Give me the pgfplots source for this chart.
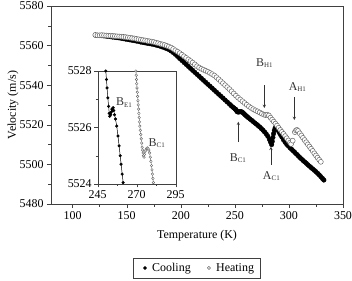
\documentclass[border=0pt]{standalone}
\usepackage{fontspec}
\setmainfont{Liberation Serif}
\usepackage{pgfplots}
\pgfplotsset{compat=1.18}
\newcommand{\fs}{\fontsize{12}{14}\selectfont}
\newcommand{\lab}[2]{#1\textsubscript{\fontsize{7}{8}\selectfont #2}}
\begin{document}
\begin{tikzpicture}
\begin{axis}[
  at={(0,0)}, anchor=south west,
  width=292bp, height=198bp, scale only axis,
  xmin=80, xmax=350, ymin=5480, ymax=5580,
  xtick={100,150,...,350}, ytick={5480,5500,...,5580},
  minor x tick num=1, minor y tick num=1,
  tick pos=left, tick align=outside,
  major tick length=4bp, minor tick length=2.5bp,
  axis line style={black!75}, every tick/.style={black!75},
  /pgf/number format/assume math mode=true,
  /pgf/number format/1000 sep={},
  tick label style={font=\fs},
  label style={font=\fs},
  xlabel={Temperature (K)}, ylabel={Velocity (m/s)},
  xlabel style={at={(axis description cs:0.5,-0.162)}, anchor=center},
  ylabel style={at={(axis description cs:-0.13,0.5)}, anchor=center},
  legend columns=2,
  legend style={at={(axis description cs:0.498,-0.323)}, anchor=center,
    font=\fs, draw=black!75,
    /tikz/every even column/.append style={column sep=8bp},
    inner xsep=4bp, inner ysep=3bp},
  legend image code/.code={\path (0bp,0bp) (13bp,0bp); \draw[#1,mark size=1.6pt] plot coordinates {(8bp,0bp)};},
]
\addplot[only marks, mark=*, mark size=2.3pt, black] coordinates {
(121,5565.3)(123,5565.2)(125,5565.1)(127,5565.0)(129,5564.9)(131,5564.8)(133,5564.6)(135,5564.5)
(137,5564.3)(139,5564.2)(141,5564.0)(143,5563.9)(145,5563.7)(147,5563.5)(149,5563.3)(151,5563.1)
(153,5562.9)(155,5562.7)(157,5562.5)(159,5562.3)(161,5562.1)(163,5561.8)(165,5561.6)(167,5561.4)
(169,5561.2)(171,5561.0)(173,5560.8)(175,5560.6)(177,5560.3)(179,5560.0)(181,5559.7)(183,5559.3)
(185,5558.9)(187,5558.5)(189,5558.0)(191,5557.3)(193,5556.5)(195,5555.6)(197,5554.6)(199,5553.5)
(201,5552.5)(203,5551.5)(205,5550.5)(207,5549.5)(209,5548.5)(211,5547.5)(213,5546.5)(215,5545.5)
(217,5544.5)(219,5543.5)(221,5542.5)(223,5541.5)(225,5540.5)(227,5539.5)(229,5538.5)(231,5537.5)
(233,5536.5)(235,5535.5)(237,5534.5)(239,5533.5)(241,5532.5)(243,5531.5)(245,5530.5)(246.5,5529.7)
(248,5529.0)(249,5528.5)(250.3,5528.0)(250.8,5527.75)(251.4,5527.3)(252.0,5526.7)(252.9,5526.45)
(253.7,5526.5)(254.6,5526.6)(255.4,5526.65)(256.3,5526.55)(257.2,5526.2)(258.5,5525.6)(259.3,5525.1)
(260.4,5524.6)(261.4,5524.1)(262.5,5523.6)(264,5522.9)(265.5,5522.3)(267,5521.6)(268.5,5520.9)
(270,5520.3)(271.5,5519.6)(273,5518.9)(274.5,5518.1)(276,5517.3)(277.5,5516.4)(279,5515.4)
(280.5,5514.2)(282,5512.6)(283,5511.3)(284,5510.0)(284.6,5511.6)(285.2,5513.6)(285.8,5515.5)
(286.5,5517.2)(287.3,5518.4)(288.2,5518.8)(289.2,5518.0)(290.2,5517.0)(291.2,5516.0)(292.2,5515.0)
(293.5,5513.8)(295,5512.4)(296.5,5511.2)(298,5510.1)(299.5,5509.3)(301,5508.4)(302.5,5507.6)
(304,5506.8)(305.5,5506.0)(307,5505.2)(308.5,5504.4)(310,5503.5)(311.5,5502.8)(313,5502.0)
(314.5,5501.3)(316,5500.6)(317.5,5499.8)(319,5499.1)(320.5,5498.4)(322,5497.7)(323.5,5497.0)
(325,5496.3)(326.5,5495.5)(328,5494.7)(329.5,5493.8)(331,5492.9)(332.3,5492.1)
};
\addlegendentry{Cooling}
\addplot[only marks, mark=*, mark size=2.5pt, mark options={draw=black!60, fill=white, line width=0.5pt}] coordinates {
(121,5565.4)(123,5565.2)(125,5565.2)(127,5565.3)(129,5565.2)(131,5565.1)(133,5565.0)(135,5565.0)
(137,5564.9)(139,5564.8)(141,5564.7)(143,5564.6)(145,5564.5)(147,5564.4)(149,5564.3)(151,5564.1)
(153,5564.0)(155,5563.8)(157,5563.6)(159,5563.4)(161,5563.2)(163,5563.0)(165,5562.8)(167,5562.6)
(169,5562.4)(171,5562.2)(173,5562.0)(175,5561.8)(177,5561.5)(179,5561.2)(181,5560.9)(183,5560.6)
(185,5560.3)(187,5559.9)(189,5559.5)(191,5559.0)(193,5558.3)(195,5557.6)(197,5556.9)(199,5556.2)
(201,5555.4)(203,5554.6)(205,5553.8)(207,5553.0)(209,5552.2)(211,5551.4)(213,5550.5)(215,5549.6)
(217,5548.9)(219,5548.3)(221,5547.8)(223,5547.3)(225,5546.8)(227,5546.2)(229,5545.6)(231,5544.9)
(233,5544.0)(235,5543.0)(237,5542.0)(239,5541.0)(241,5540.0)(243,5539.0)(245,5538.0)(247,5536.9)
(249,5535.8)(251,5534.7)(253,5533.7)(255,5532.8)(257,5531.9)(259,5531.0)(261,5530.1)(263,5529.3)
(265,5528.5)(267,5527.9)(269,5527.3)(271,5526.8)(273,5526.2)(275,5525.6)(277,5525.1)(278.5,5524.9)
(280,5525.1)(281.5,5524.7)(283,5523.6)(284.5,5522.6)(286,5521.6)(287.5,5520.6)(289,5519.6)
(290.5,5518.5)(292,5517.4)(293.5,5516.4)(295,5515.4)(296.5,5514.3)(298,5513.2)(299.5,5512.1)
(301,5511.0)(302,5510.3)(303.5,5512.0)
(305.5,5516.3)(306.5,5517.2)(307.5,5517.4)(308.5,5516.9)(310,5515.7)(311.5,5514.6)(313,5513.4)
(314.5,5512.3)(316,5511.2)(317.5,5510.1)(319,5509.0)(320.5,5507.9)(322,5506.8)(323.5,5505.6)
(325,5504.5)(326.5,5503.4)(328,5502.3)(329.5,5501.3)
};
\addlegendentry{Heating}
% annotations
\node[font=\fs, black!80] at (axis cs:277.5,5551.2) {\lab{B}{H1}};
\draw[-stealth, black!80, line width=0.5pt] (axis cs:277.2,5540.1) -- (axis cs:277.2,5528.5);
\node[font=\fs, black!80] at (axis cs:308,5539.1) {\lab{A}{H1}};
\draw[-stealth, black!80, line width=0.5pt] (axis cs:305,5534.0) -- (axis cs:305,5522.4);
\node[font=\fs, black!80] at (axis cs:253,5503.2) {\lab{B}{C1}};
\draw[-stealth, black!80, line width=0.5pt] (axis cs:253.2,5511.2) -- (axis cs:253.2,5521.6);
\node[font=\fs, black!80] at (axis cs:284,5494.1) {\lab{A}{C1}};
\draw[-stealth, black!80, line width=0.5pt] (axis cs:283.4,5499.7) -- (axis cs:283.4,5508.9);
\end{axis}
\begin{axis}[
  at={(46.7bp,20bp)}, anchor=south west,
  width=78bp, height=113bp, scale only axis,
  xmin=245, xmax=295, ymin=5524, ymax=5528,
  xtick={245,270,295}, ytick={5524,5526,5528},
  minor x tick num=1, minor y tick num=1,
  tick pos=left, tick align=outside,
  major tick length=3.5bp, minor tick length=2bp,
  axis line style={black!75}, every tick/.style={black!75},
  axis background/.style={fill=white},
  /pgf/number format/assume math mode=true,
  /pgf/number format/1000 sep={},
  tick label style={font=\fs},
  yticklabel style={xshift=1bp},
]
\addplot[black, line width=0.5pt, mark=*, mark size=1.3pt] coordinates {
(250.2,5528.0)(250.6,5527.7)(251.0,5527.4)(251.5,5527.05)(252.0,5526.75)(252.4,5526.5)(252.7,5526.4)
(253.0,5526.5)(253.3,5526.45)(253.7,5526.55)(254.1,5526.65)(254.5,5526.6)(254.9,5526.7)(255.3,5526.6)
(255.8,5526.45)(256.4,5526.3)(257.2,5526.05)(258.0,5525.7)(258.7,5525.35)(259.4,5525.0)(260.0,5524.7)
(260.7,5524.35)(261.3,5524.05)
};
\addplot[black!60, line width=0.4pt, mark=*, mark size=1.3pt, mark options={fill=white}] coordinates {
(269.5,5528.0)(269.7,5527.85)(269.9,5527.7)(270.0,5527.55)(270.2,5527.4)(270.4,5527.25)(270.6,5527.1)
(270.8,5526.95)(271.0,5526.8)(271.2,5526.65)(271.4,5526.5)(271.6,5526.35)(271.8,5526.2)(272.0,5526.05)
(272.3,5525.9)(272.6,5525.75)(272.9,5525.6)(273.2,5525.45)(273.5,5525.3)(273.8,5525.2)(274.1,5525.1)
(274.4,5525.0)(274.7,5524.95)(275.0,5525.05)(275.4,5525.15)(275.8,5525.2)(276.3,5525.25)(276.8,5525.28)
(277.3,5525.25)(277.8,5525.2)(278.3,5525.1)(278.7,5524.95)(279.1,5524.8)(279.5,5524.65)(279.8,5524.5)
(280.1,5524.35)(280.4,5524.2)(280.7,5524.05)
};
\node[font=\fs, black!80] at (axis cs:262,5526.88) {\lab{B}{E1}};
\node[font=\fs, black!80] at (axis cs:283,5525.45) {\lab{B}{C1}};
\end{axis}
\pgfresetboundingbox
\path (-51bp,-77bp) rectangle (301bp,204bp);
\end{tikzpicture}
\end{document}
